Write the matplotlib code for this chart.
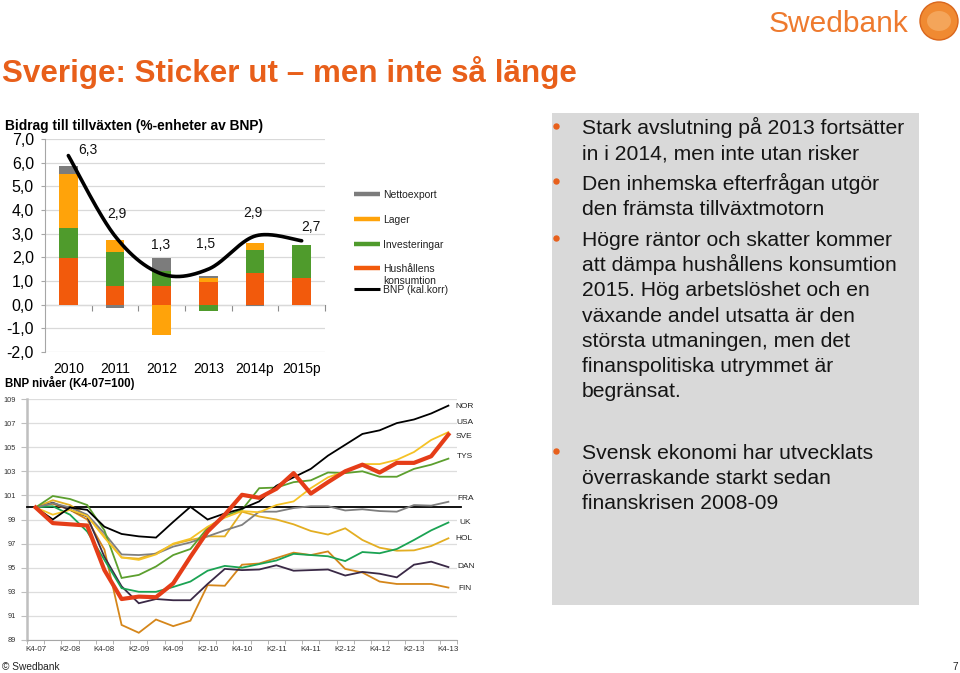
import matplotlib
matplotlib.use('Agg')
import matplotlib.pyplot as plt
from matplotlib.lines import Line2D
from matplotlib.patches import Rectangle, Ellipse
import numpy as np

plt.rcParams['font.family'] = ['Liberation Sans', 'DejaVu Sans']

# ------------------------------------------------------------------ data
years = ['2010', '2011', '2012', '2013', '2014p', '2015p']
hushall = [1.99, 0.80, 0.77, 0.94, 1.34, 1.11]
invest = [1.25, 1.43, 0.64, -0.25, 0.98, 1.41]
lager = [2.29, 0.50, -1.30, 0.19, 0.28, 0.0]
netto = [0.32, -0.14, 0.56, 0.09, -0.07, 0.0]
bnp = [6.3, 2.9, 1.3, 1.5, 2.9, 2.7]

bar_series = ['Hushållens\nkonsumtion', 'Investeringar', 'Lager', 'Nettoexport']
bar_colors = ['#F25A0C', '#4F9B2C', '#FFA30A', '#7C7C7C']

quarter_labels = ['K4-07', 'K2-08', 'K4-08', 'K2-09', 'K4-09', 'K2-10', 'K4-10',
                  'K2-11', 'K4-11', 'K2-12', 'K4-12', 'K2-13', 'K4-13']

NOR = [100, 99.0, 100.0, 99.8, 98.4, 97.8, 97.6, 97.5, 98.8, 100.05, 99.0, 99.5, 99.9,
       100.5, 101.8, 102.5, 103.2, 104.3, 105.2, 106.1, 106.4, 107.0, 107.3, 107.8, 108.45]
USA = [100, 99.4, 99.8, 99.3, 97.5, 95.85, 95.65, 96.1, 97.0, 97.4, 98.4, 99.15, 99.7,
       99.6, 100.2, 100.5, 101.6, 102.5, 103.0, 103.6, 103.6, 103.95, 104.6, 105.6, 106.25]
SVE = [100, 98.7, 98.6, 98.5, 94.8, 92.4, 92.6, 92.55, 93.7, 95.9, 98.0, 99.4, 101.05,
       100.8, 101.55, 102.85, 101.15, 102.1, 103.0, 103.55, 102.9, 103.7, 103.7, 104.25, 106.05]
TYS = [100, 100.95, 100.7, 100.2, 98.1, 94.15, 94.4, 95.1, 96.05, 96.55, 98.3, 99.3, 99.8,
       101.6, 101.65, 102.1, 102.25, 102.9, 102.85, 103.0, 102.55, 102.55, 103.2, 103.55, 104.05]
FRA = [100, 100.35, 100.0, 99.4, 97.85, 96.1, 96.05, 96.15, 96.75, 97.1, 97.6, 98.1, 98.55,
       99.65, 99.65, 99.95, 100.1, 100.1, 99.75, 99.85, 99.7, 99.65, 100.2, 100.15, 100.47]
UK = [100, 100.1, 99.4, 98.0, 95.65, 93.3, 93.0, 93.0, 93.4, 93.85, 94.75, 95.15, 95.0,
      95.3, 95.6, 96.15, 96.05, 95.95, 95.55, 96.3, 96.2, 96.55, 97.3, 98.1, 98.75]
HOL = [100, 100.6, 100.2, 99.3, 97.6, 95.85, 95.75, 96.2, 96.95, 97.3, 97.6, 97.6, 99.65,
       99.25, 99.0, 98.6, 98.05, 97.75, 98.27, 97.3, 96.66, 96.41, 96.44, 96.8, 97.44]
DAN = [100, 100.4, 99.8, 99.25, 95.9, 93.45, 92.05, 92.4, 92.3, 92.3, 93.65, 94.9, 94.8,
       94.85, 95.2, 94.75, 94.8, 94.85, 94.35, 94.65, 94.5, 94.2, 95.25, 95.5, 95.05]
FIN = [100, 100.3, 99.8, 99.0, 96.5, 90.25, 89.6, 90.7, 90.15, 90.6, 93.55, 93.5, 95.25,
       95.35, 95.8, 96.25, 96.05, 96.35, 94.9, 94.6, 93.85, 93.65, 93.65, 93.65, 93.35]

country_names = ['NOR', 'USA', 'SVE', 'TYS', 'FRA', 'UK', 'HOL', 'DAN', 'FIN']
country_series = [NOR, USA, SVE, TYS, FRA, UK, HOL, DAN, FIN]

# ------------------------------------------------------------------ style / layout
W, H = 960, 673
ORANGE = '#E85F1A'
country_colors = {'NOR': '#000000', 'USA': '#F5C226', 'SVE': '#E53D18', 'TYS': '#5C9F2E',
                  'FRA': '#7F7F7F', 'UK': '#1BA353', 'HOL': '#E3AE22', 'DAN': '#3A2946',
                  'FIN': '#D5861A'}
country_lw = {'SVE': 3.0}
# label positions (pixel x, pixel y centre)
country_label_pos = {'NOR': (455, 406), 'USA': (456, 423), 'SVE': (456, 437),
                     'TYS': (457, 456), 'FRA': (457, 499), 'UK': (459, 523),
                     'HOL': (455, 539), 'DAN': (457, 567), 'FIN': (458, 589)}
bnp_label_offsets = [(14, 4), (1.5, 16), (-0.5, 21), (-2, 18), (-1.5, 16.5), (6.5, 10)]

fig = plt.figure(figsize=(9.6, 6.73), dpi=100)


def fx(x):
    return x / W


def fy(y):
    return 1 - y / H


def ftext(x, y, s, size, **kw):
    kw.setdefault('va', 'baseline')
    kw.setdefault('ha', 'left')
    return fig.text(fx(x), fy(y), s, fontsize=size, **kw)


# ------------------------------------------------------------------ header
ftext(2, 82, 'Sverige: Sticker ut \u2013 men inte så länge', 22.6, color=ORANGE,
      fontweight='bold')
ftext(769, 31.5, 'Swedbank', 21.5, color='#EE7A2E')
fig.add_artist(Ellipse((fx(939), fy(21)), 38 / W, 38 / H, transform=fig.transFigure,
                       facecolor='#F08A32', edgecolor='#D9661C', lw=1.0))
fig.add_artist(Ellipse((fx(939), fy(21)), 24 / W, 20 / H, transform=fig.transFigure,
                       facecolor='#F4A55A', edgecolor='none'))
ftext(2, 669.5, '© Swedbank', 7.3, color='#222222')
ftext(958, 669.5, '7', 7.3, color='#222222', ha='right')

# ------------------------------------------------------------------ bar chart
ftext(5, 130, 'Bidrag till tillväxten (%-enheter av BNP)', 9.9, fontweight='bold')
ax1 = fig.add_axes([fx(45), fy(352), (325 - 45) / W, (352 - 139) / H])
ax1.set_xlim(-0.5, len(years) - 0.5)
ax1.set_ylim(-2, 7)
x = np.arange(len(years))
pos_bottom = np.zeros(len(years))
neg_bottom = np.zeros(len(years))
for vals, col in zip([hushall, invest, lager, netto], bar_colors):
    vals = np.array(vals, dtype=float)
    bottoms = np.where(vals >= 0, pos_bottom, neg_bottom)
    ax1.bar(x, vals, width=0.4, bottom=bottoms, color=col, zorder=3)
    pos_bottom = pos_bottom + np.where(vals >= 0, vals, 0)
    neg_bottom = neg_bottom + np.where(vals < 0, vals, 0)


def catmull_rom(xs, ys, n=40):
    P = np.column_stack([xs, ys]).astype(float)
    P = np.vstack([P[0], P, P[-1]])
    out = []
    t = np.linspace(0, 1, n)[:, None]
    for i in range(len(P) - 3):
        p0, p1, p2, p3 = P[i], P[i + 1], P[i + 2], P[i + 3]
        seg = 0.5 * ((2 * p1) + (-p0 + p2) * t + (2 * p0 - 5 * p1 + 4 * p2 - p3) * t ** 2
                     + (-p0 + 3 * p1 - 3 * p2 + p3) * t ** 3)
        out.append(seg if i == 0 else seg[1:])
    out = np.vstack(out)
    return out[:, 0], out[:, 1]


sx, sy = catmull_rom(x, bnp)
ax1.plot(sx, sy, color='black', lw=2.6, zorder=5, solid_capstyle='round')
for i, v in enumerate(bnp):
    dx, dy = bnp_label_offsets[i]
    ax1.annotate(f'{v:.1f}'.replace('.', ','), (i, v), xytext=(dx, dy),
                 textcoords='offset points', ha='center', va='center', fontsize=10,
                 color='#111111', zorder=6)

ax1.set_yticks(range(-2, 8))
ax1.set_yticklabels([f'{v:.1f}'.replace('.', ',') for v in range(-2, 8)], fontsize=11.5)
ax1.set_xticks(x)
ax1.set_xticklabels(years, fontsize=10)
ax1.tick_params(axis='x', length=0, pad=7)
ax1.tick_params(axis='y', length=3, color='#A6A6A6', pad=5)
ax1.yaxis.grid(True, color='#D9D9D9', lw=0.9, zorder=0)
ax1.set_axisbelow(True)
for s in ['top', 'right', 'bottom']:
    ax1.spines[s].set_visible(False)
ax1.spines['left'].set_color('#A6A6A6')
sec = ax1.secondary_xaxis(2 / 9)
sec.set_xticks(np.arange(0.5, len(years), 1.0))
sec.set_xticklabels([])
sec.tick_params(length=4, color='#8C8C8C', direction='out')
for s in sec.spines.values():
    s.set_color('#8C8C8C')

# legend (manual)
legend_rows = [('Nettoexport', bar_colors[3], 194), ('Lager', bar_colors[2], 219),
               ('Investeringar', bar_colors[1], 244), ('Hushållens\nkonsumtion', bar_colors[0], 268)]
for lab, col, yy in legend_rows:
    fig.add_artist(Line2D([fx(354), fx(380)], [fy(yy), fy(yy)], color=col, lw=3.2,
                          transform=fig.transFigure, solid_capstyle='butt'))
    for k, part in enumerate(lab.split('\n')):
        ftext(383, yy + 3.8 + 12 * k, part, 7.5, color='#222222')
fig.add_artist(Line2D([fx(354), fx(380)], [fy(289), fy(289)], color='black', lw=2.2,
                      transform=fig.transFigure, solid_capstyle='butt'))
ftext(383, 292.8, 'BNP (kal.korr)', 7.5, color='#222222')

# ------------------------------------------------------------------ line chart
ftext(5, 387, 'BNP nivåer (K4-07=100)', 8.3, fontweight='bold')
ax2 = fig.add_axes([fx(27), fy(640), 430 / W, (640 - 399) / H])
ax2.set_xlim(-0.5, 24.5)
ax2.set_ylim(89, 109)
qx = np.arange(len(NOR))
ax2.axhline(100, color='black', lw=1.3, zorder=3, xmax=1.01, clip_on=False)
order = ['FIN', 'DAN', 'HOL', 'UK', 'FRA', 'TYS', 'USA', 'NOR', 'SVE']
for name in order:
    vals = country_series[country_names.index(name)]
    ax2.plot(qx, vals, color=country_colors[name], lw=country_lw.get(name, 1.3), zorder=4,
             solid_joinstyle='miter' if name != 'SVE' else 'round')
for name in country_names:
    px, py = country_label_pos[name]
    fig.text(fx(px), fy(py), name, fontsize=6, ha='left', va='center', color='#222222')

ax2.set_yticks(range(89, 110, 2))
ax2.set_yticklabels([str(v) for v in range(89, 110, 2)], fontsize=5.3, color='#333333')
ax2.set_xticks(np.arange(0, 25, 2))
ax2.set_xticklabels(quarter_labels, fontsize=5.8, color='#333333')
ax2.set_xticks(np.arange(-0.5, 25, 1), minor=True)
ax2.tick_params(axis='x', which='major', length=0, pad=4)
ax2.tick_params(axis='x', which='minor', length=3, color='#A6A6A6')
ax2.tick_params(axis='y', length=4, color='#BFBFBF', pad=4)
ax2.yaxis.grid(True, color='#DDDDDD', lw=0.9, zorder=0)
ax2.set_axisbelow(True)
for s in ['top', 'right']:
    ax2.spines[s].set_visible(False)
ax2.spines['left'].set_color('#BFBFBF')
ax2.spines['left'].set_linewidth(1.8)
ax2.spines['bottom'].set_color('#A6A6A6')

# ------------------------------------------------------------------ text box
fig.add_artist(Rectangle((fx(551.5), fy(605)), (919 - 551.5) / W, (605 - 112.5) / H,
                         transform=fig.transFigure, facecolor='#D9D9D9', edgecolor='none',
                         zorder=0))
paragraphs = [
    (134, ['Stark avslutning på 2013 fortsätter', 'in i 2014, men inte utan risker']),
    (190, ['Den inhemska efterfrågan utgör', 'den främsta tillväxtmotorn']),
    (246, ['Högre räntor och skatter kommer', 'att dämpa hushållens konsumtion',
           '2015. Hög arbetslöshet och en', 'växande andel utsatta är den',
           'största utmaningen, men det', 'finanspolitiska utrymmet är', 'begränsat.']),
    (459, ['Svensk ekonomi har utvecklats', 'överraskande starkt sedan',
           'finanskrisen 2008-09']),
]
for base, lines in paragraphs:
    fig.add_artist(Line2D([fx(555.5)], [fy(base - 8.5)], marker='o', ms=3.6,
                          color='#E8601C', transform=fig.transFigure, lw=0))
    for k, ln in enumerate(lines):
        ftext(582, base + 25.2 * k, ln, 15.2, color='#151515')

fig.savefig('out.png', dpi=100)
